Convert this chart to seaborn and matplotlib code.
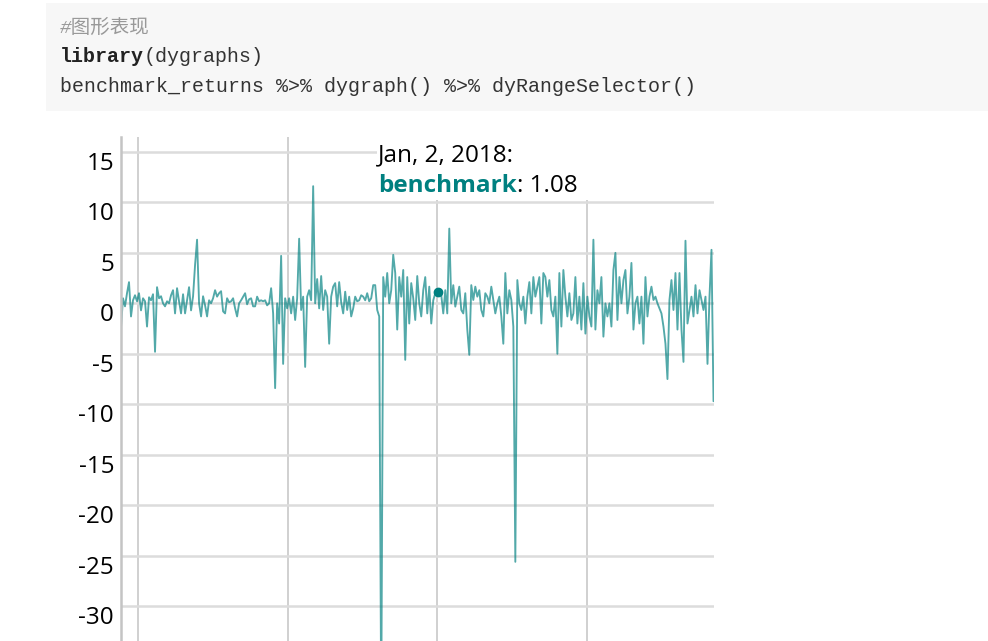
# %%
import matplotlib
matplotlib.use('Agg')
import matplotlib.pyplot as plt
import matplotlib.dates as mdates
import matplotlib.transforms as mtransforms
from matplotlib.patches import Rectangle
import pandas as pd
import seaborn as sns

# %%
# benchmark returns left to right
returns_a = [-2.4, 0.5, -0.3, 1.0, 2.1, -1.3, 0.3, 0.8, 0.2, 1.0,
             -0.7, 0.5, 0.2, -2.3, 0.6, 0.3, 0.9, -4.8, 1.6, 0.5,
             0.7, 0.0, -0.3, 0.2, 0.0, 0.8, 1.3, -1.0, 1.5, 0.2,
             -1.0, 0.9, -1.0, 0.3, 1.6, -0.7, 0.7, 3.8, 6.3, 0.0,
             -1.3, 0.7, -0.2, -1.3, 0.3, 0.0, 0.5, 1.3]
returns_b = [0.66, 1.0, 1.2, -0.8, -1.0, 0.5, 0.1, 0.2, 0.5, -0.5,
             -1.3, 0.0, 0.3, 0.66, 1.0, -0.1, 0.4, 0.5, -0.3, -0.3,
             0.66, 0.2, 0.3, 0.2, 0.3, -0.2, 0.0, 1.5, -1.0, -8.4,
             0.0, -2.0, 4.7, -6.0, 0.5, -0.5, 0.5, -1.0, 0.66, -1.65,
             0.5, 6.4, -0.66, 0.66, -6.3, 0.66, 1.3]
returns_c = [0.3, 11.6, 0.0, 2.4, -0.5, 2.7, -0.66, 1.3, 0.66, -4.0,
             0.66, 1.65, 2.0, -0.3, 2.1, 0.1, -1.0, 1.15, -0.66, 0.66,
             -1.3, -0.5, 0.66, 0.2, 0.3, 0.8, 0.66, 0.3, 1.0, 0.2,
             0.5, 1.8, 1.8, -0.66, -1.3, -40.0, 2.6, 0.66, 3.0, 0.0,
             1.3, 4.8, 3.0, -2.6, 2.6, 0.66, 3.3, -5.6]
returns_d = [2.6, -2.0, 2.0, 0.5, -1.65, 2.7, 0.0, -1.3, 1.3, 2.6,
             -1.0, 1.65, -2.0, 0.3, 1.0, 1.1, 1.08, 0.8, -1.0, 1.3,
             -1.0, 7.4, 0.0, 1.8, -0.33, 0.66, 1.65, -0.66, -1.0, 1.0,
             -2.6, -5.1, 1.8, 0.33, 1.65, 0.66, 1.3, -0.66, -1.3, 1.0,
             0.66, 0.0, 1.65, 0.33, -1.0, 0.0, 0.66]
returns_e = [-1.3, -4.0, 3.0, -1.0, 1.3, 0.33, -2.3, -25.6, 2.3, 0.0,
             -0.66, 0.66, -2.0, 0.66, 2.1, -1.0, 2.6, 0.66, 1.65, 2.6,
             -2.0, 3.0, 2.6, 0.66, 2.3, -0.66, -1.3, 0.66, -5.0, 3.0,
             -2.3, 3.3, 0.66, -1.3, 1.0, -1.65, -1.0, 2.6, -2.0, 0.66,
             -2.6, 2.0, -3.0, 0.66, -1.3, -2.3, 6.3]
returns_f = [-2.6, 1.3, 0.0, 2.6, -3.3, 0.0, -1.3, 0.0, -2.3, 3.3,
             5.0, -1.65, 2.6, 0.0, 2.3, 3.3, -1.0, 0.66, 4.0, -2.6,
             0.0, 0.66, -2.0, 0.66, -4.0, 2.6, -1.3, 0.66, 1.65, 0.33,
             0.66, 0.0, -0.5, -1.0, -2.3, -4.0, -7.5, 0.33, 2.3, -0.66,
             3.0, -2.6, 3.0, -2.6, -5.8, 6.2, -2.0, -0.66, 0.66, -1.3,
             1.8, -1.0, 1.3, 0.33, -0.66, 0.66, -6.0, 0.66, 5.3, -9.7]

start_date = '2015-11-21'
end_date = '2019-11-06'
series_name = 'benchmark'
hover_date = '2018-01-02'
hover_value = 1.08
y_ticks = [-30, -25, -20, -15, -10, -5, 0, 5, 10, 15]

code_comment = '#图形表现'
code_keyword = 'library'
code_args = '(dygraphs)'
code_call = 'benchmark_returns %>% dygraph() %>% dyRangeSelector()'

# %%
values = returns_a + returns_b + returns_c + returns_d + returns_e + returns_f
df_returns = pd.DataFrame({
    'date': pd.date_range(start_date, end_date, periods=len(values)),
    series_name: values,
})

# %%
sns.set_style('white')
plt.rcParams['font.family'] = ['Open Sans', 'DejaVu Sans']
plt.rcParams['text.color'] = 'black'

W, H = 988, 641
fig = plt.figure(figsize=(W / 100, H / 100), dpi=100)


def fx(px):
    return px / W


def fy(py):
    return 1 - py / H


# code chunk
fig.add_artist(Rectangle((fx(46), fy(111)), fx(988) - fx(46), fy(3) - fy(111),
                         transform=fig.transFigure, facecolor='#f7f7f7',
                         edgecolor='none', zorder=0))
mono = ['Liberation Mono', 'Noto Sans CJK SC']
fig.text(fx(60), fy(28), code_comment, family=mono, style='italic',
         color='#999999', fontsize=14, va='center')
kw = fig.text(fx(60), fy(57), code_keyword, family=mono, fontweight='bold',
              color='#222222', fontsize=14.4, va='center')
fig.text(fx(60), fy(86), code_call, family=mono, color='#333333',
         fontsize=14.4, va='center')

# %%
ax = fig.add_axes([fx(121), 0, fx(713.5) - fx(121), fy(137)])
sns.lineplot(data=df_returns, x='date', y=series_name, ax=ax,
             color='#008080', lw=1.35, alpha=0.68)
ax.plot(pd.Timestamp(hover_date), hover_value, 'o', color='#008080', ms=6)

ax.set_xlim(df_returns['date'].min(), df_returns['date'].max())
ax.set_ylim(-33.44, 16.47)
ax.set_yticks(y_ticks)
ax.set_yticklabels([str(t) for t in y_ticks])
ax.xaxis.set_major_locator(mdates.YearLocator())
ax.set_xlabel('')
ax.set_ylabel('')
ax.set_axisbelow(True)
ax.yaxis.grid(True, color='#dcdcdc', lw=1.8)
ax.xaxis.grid(True, color='#c8c8c8', lw=1.2)
for side in ['top', 'right', 'bottom']:
    ax.spines[side].set_visible(False)
ax.spines['left'].set_color('#c4c4c4')
ax.spines['left'].set_linewidth(1.8)
ax.tick_params(axis='y', length=0, pad=5, labelsize=17.5, labelcolor='black')
ax.tick_params(axis='x', length=0, labelbottom=False)

offset = mtransforms.ScaledTranslation(0, -9 / 100, fig.dpi_scale_trans)
for label in ax.get_yticklabels():
    label.set_transform(label.get_transform() + offset)

# %%
# hover legend box
fig.add_artist(Rectangle((fx(377), fy(200)), fx(714) - fx(377), fy(137) - fy(200),
                         transform=fig.transFigure, facecolor='white',
                         edgecolor='none', zorder=2))
ts = pd.Timestamp(hover_date)
fig.text(fx(378), fy(155), f'{ts:%b}, {ts.day}, {ts.year}:', fontsize=17.5,
         color='black', va='center', zorder=3)
name_txt = fig.text(fx(378), fy(186), series_name, fontsize=17.5, fontweight='bold',
                    color='#008080', va='center', zorder=3)

fig.canvas.draw()
renderer = fig.canvas.get_renderer()
fig.text(kw.get_window_extent(renderer).x1 / W, fy(57), code_args, family=mono,
         color='#333333', fontsize=14.4, va='center')
fig.text(name_txt.get_window_extent(renderer).x1 / W, fy(186), f': {hover_value:.2f}',
         fontsize=17.5, color='black', va='center', zorder=3)

fig.savefig('out.png', dpi=100)
